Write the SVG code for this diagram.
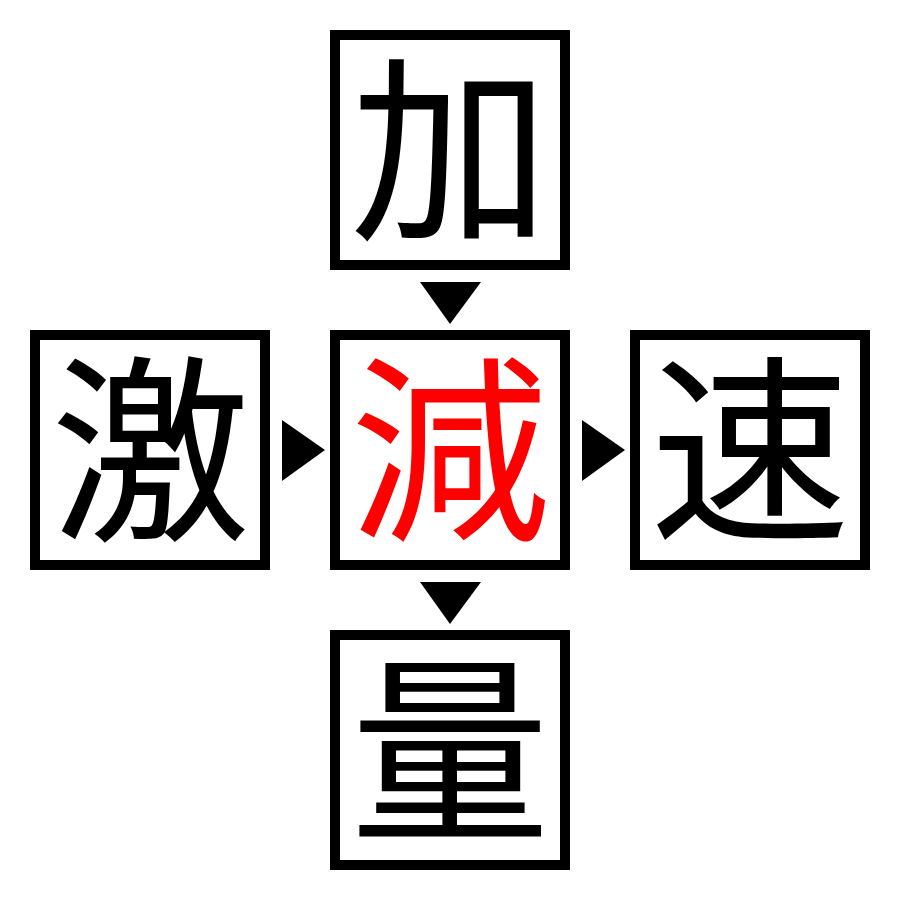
<svg xmlns="http://www.w3.org/2000/svg" width="900" height="900" viewBox="0 0 900 900">
<style>
.box{fill:#fff;stroke:#000;stroke-width:10}
.ch{font-family:"Liberation Serif","Noto Sans CJK JP",serif;font-size:200px;text-anchor:middle;fill:#000}
.red{fill:#ff0000}
.arr{fill:#000}
</style>
<rect width="900" height="900" fill="#fff"/>
<g id="connectors">
<polygon class="arr" points="420,282 481,282 450,324"/>
<polygon class="arr" points="420,582 481,582 450,624"/>
<polygon class="arr" points="282,420 282,481 325,450"/>
<polygon class="arr" points="582,420 582,481 625,450"/>
</g>
<g id="node-top"><rect class="box" x="335" y="35" width="230" height="230"/><text class="ch" x="450" y="225">加</text></g>
<g id="node-left"><rect class="box" x="35" y="335" width="230" height="230"/><text class="ch" x="150" y="525">激</text></g>
<g id="node-center"><rect class="box" x="335" y="335" width="230" height="230"/><text class="ch red" x="450" y="525">減</text></g>
<g id="node-right"><rect class="box" x="635" y="335" width="230" height="230"/><text class="ch" x="750" y="525">速</text></g>
<g id="node-bottom"><rect class="box" x="335" y="635" width="230" height="230"/><text class="ch" x="450" y="825">量</text></g>
</svg>
